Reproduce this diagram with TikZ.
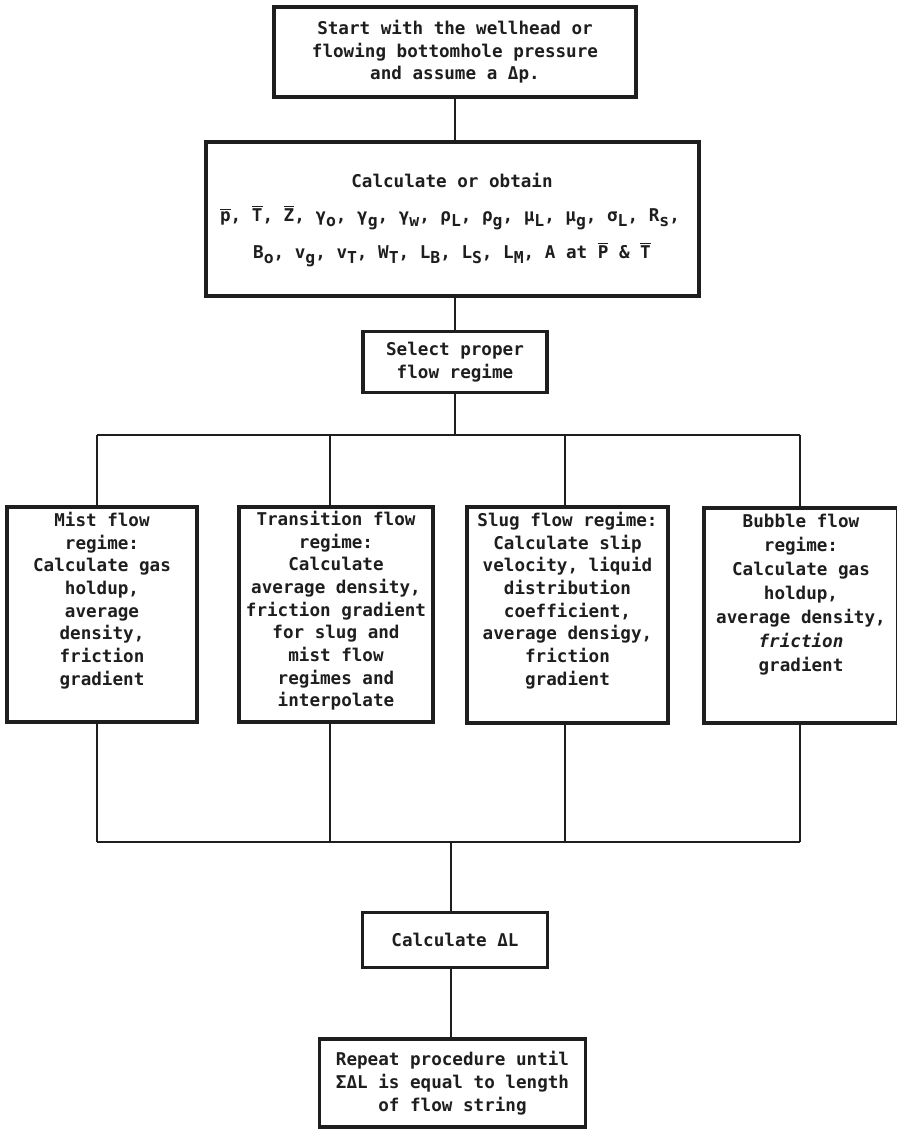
\documentclass[tikz,border=0pt]{standalone}
\usepackage{fontspec}
\newfontfamily\monofam{DejaVu Sans Mono}
\definecolor{ink}{RGB}{30,30,30}
\newcommand\dn[1]{\raisebox{-0.6ex}{\fontsize{12.3pt}{12.3pt}\selectfont #1}}
\newcommand\ovl[1]{$\overline{\mbox{#1}}$}
\tikzset{
  box/.style={draw=ink, line width=2.3pt, inner sep=0pt},
  txt/.style={font=\monofam\bfseries\fontsize{13.2pt}{17pt}\selectfont, align=center, text=ink},
  wire/.style={draw=ink, line width=1.5pt},
}
\begin{document}
\begin{tikzpicture}[x=0.75pt,y=-0.75pt]
\useasboundingbox (0,0) rectangle (896,1131);
\fill[white] (0,0) rectangle (896,1131);

% top
\node[box, txt, minimum width=271.5pt, minimum height=67.5pt] (start) at (455,52)
  {Start with the wellhead or\\flowing bottomhole pressure\\and assume a Δp.};

% calculate or obtain
\node[box, minimum width=369.75pt, minimum height=115.5pt] (calc) at (452.5,219) {};
\node[txt, inner sep=0pt] (calcA) at (452,180) {Calculate or obtain};
\node[txt, inner sep=0pt] (calcB) at (450,218)
  {\ovl{p}, \ovl{T}, \ovl{Z}, γ\dn{o}, γ\dn{g}, γ\dn{w}, ρ\dn{L}, ρ\dn{g}, μ\dn{L}, μ\dn{g}, σ\dn{L}, R\dn{s},};
\node[txt, inner sep=0pt] (calcC) at (452,255)
  {B\dn{o}, v\dn{g}, v\dn{T}, W\dn{T}, L\dn{B}, L\dn{S}, L\dn{M}, A at \ovl{P} \& \ovl{T}};

% select
\node[box, txt, minimum width=138pt, minimum height=46pt] (sel) at (455,362)
  {Select proper\\flow regime};

\draw[wire] (start.south) -- (start.south |- calc.north);
\draw[wire] (sel.north |- calc.south) -- (sel.north);

% regime boxes
\node[box, minimum width=142.5pt, minimum height=161.25pt] (mist) at (102,614.5) {};
\node[box, minimum width=145.5pt, minimum height=161.25pt] (trans) at (336,614.5) {};
\node[box, minimum width=150.75pt, minimum height=162pt] (slug) at (567.5,615) {};
\node[box, minimum width=145.5pt, minimum height=161.25pt] (bub) at (801,615.5) {};

\node[txt, anchor=north, inner sep=0pt] (mistT) at (102,512)
  {Mist flow\\regime:\\Calculate gas\\holdup,\\average\\density,\\friction\\gradient};
\node[txt, anchor=north, inner sep=0pt] (transT) at (336,511)
  {Transition flow\\regime:\\Calculate\\average density,\\friction gradient\\for slug and\\mist flow\\regimes and\\interpolate};
\node[txt, anchor=north, inner sep=0pt] (slugT) at (567.5,512)
  {Slug flow regime:\\Calculate slip\\velocity, liquid\\distribution\\coefficient,\\average densigy,\\friction\\gradient};
\node[txt, anchor=north, inner sep=0pt, font=\monofam\bfseries\fontsize{13.2pt}{18pt}\selectfont] (bubT) at (801,514)
  {Bubble flow\\regime:\\Calculate gas\\holdup,\\average density,\\{\itshape friction}\\gradient};

% branch
\coordinate (b1) at (97,435);
\coordinate (b2) at (330,435);
\coordinate (b3) at (565,435);
\coordinate (b4) at (800,435);
\draw[wire] (sel.south) -- (sel.south |- b1);
\draw[wire] (b1) -- (b4);
\draw[wire] (b1) -- (b1 |- mist.north);
\draw[wire] (b2) -- (b2 |- trans.north);
\draw[wire] (b3) -- (b3 |- slug.north);
\draw[wire] (b4) -- (b4 |- bub.north);

% merge
\coordinate (m1) at (97,842);
\coordinate (m2) at (330,842);
\coordinate (m3) at (565,842);
\coordinate (m4) at (800,842);
\coordinate (mc) at (451,842);
\draw[wire] (m1 |- mist.south) -- (m1);
\draw[wire] (m2 |- trans.south) -- (m2);
\draw[wire] (m3 |- slug.south) -- (m3);
\draw[wire] (m4 |- bub.south) -- (m4);
\draw[wire] (m1) -- (m4);

% delta L
\node[box, txt, minimum width=138.75pt, minimum height=41pt] (dl) at (455,940)
  {Calculate ΔL};
\node[box, txt, minimum width=199.5pt, minimum height=66pt] (rep) at (452.5,1083)
  {Repeat procedure until\\ΣΔL is equal to length\\of flow string};

\draw[wire] (mc) -- (mc |- dl.north);
\draw[wire] (mc |- dl.south) -- (mc |- rep.north);
\end{tikzpicture}
\end{document}
